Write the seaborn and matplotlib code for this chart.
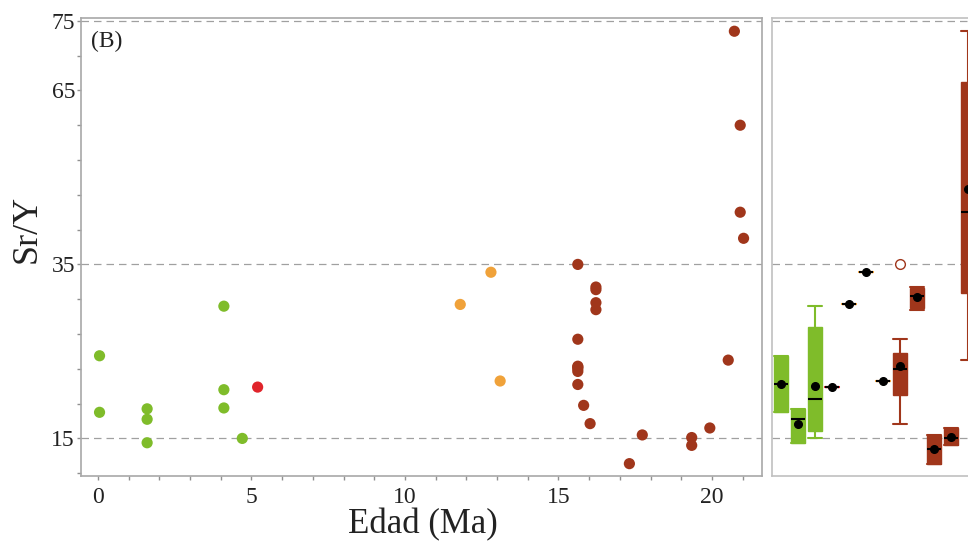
import numpy as np
import pandas as pd
import matplotlib
matplotlib.use("Agg")
import matplotlib.pyplot as plt
from matplotlib.ticker import NullFormatter
import seaborn as sns

# puntos: edad (Ma), Sr/Y, tipo y grupo de edad
edad = [0.05, 0.05, 1.6, 1.6, 1.6, 4.1, 4.1, 4.1, 4.7, 5.2,
        11.8, 12.8, 13.1,
        15.63, 15.63, 15.63, 15.63, 15.63, 15.63, 15.63, 15.82, 16.03,
        16.22, 16.22, 16.22, 16.22, 17.31, 17.73, 19.34, 19.34, 19.93,
        20.53, 20.73, 20.92, 20.92, 21.03]
sry = [24.5, 18.0, 18.4, 17.2, 14.5, 30.2, 20.6, 18.5, 15.0, 20.9,
       30.4, 34.1, 21.6,
       35.0, 26.4, 23.3, 23.2, 23.0, 22.7, 21.2, 18.8, 16.7,
       32.4, 32.1, 30.6, 29.8, 12.1, 15.4, 15.1, 14.2, 16.2,
       24.0, 73.5, 59.0, 44.0, 39.5]
tipo = ["verde"] * 9 + ["rojo"] + ["naranja"] * 3 + ["cafe"] * 23
grupo = [0, 0, 1, 1, 1, 2, 2, 2, 2, 3, 4, 5, 6] + [7] * 9 + [8] * 4 + \
        [9, 9, 10, 10, 10] + [11] * 5

colores = {"verde": "#7fbc2a", "rojo": "#e0242b",
           "naranja": "#f0a23a", "cafe": "#a0361b"}

df = pd.DataFrame({"edad": edad, "sry": sry, "tipo": tipo, "grupo": grupo})

# eje Y no lineal (marcas equiespaciadas)
Y_VAL = [-50, 15, 35, 65, 75, 200]
Y_POS = [-15.25, 1, 6, 11, 13, 38]
def fwd(v):
    return np.interp(v, Y_VAL, Y_POS)
def inv(h):
    return np.interp(h, Y_POS, Y_VAL)

sns.set_style("white")
plt.rcParams["font.family"] = ["Liberation Serif", "DejaVu Serif"]

W, H = 968, 544
fig = plt.figure(figsize=(9.68, 5.44), dpi=100)
ax = fig.add_axes([80.6 / W, 1 - 476 / H, (762 - 80.6) / W, (476 - 18.3) / H])
ax2 = fig.add_axes([772 / W, 1 - 476 / H, (1130 - 772) / W, (476 - 18.3) / H])

for a in (ax, ax2):
    a.set_yscale("function", functions=(fwd, inv))
    a.set_ylim(10.68, 75.36)
    for v in [15, 35, 75]:
        a.axhline(v, color="#a0a0a0", lw=0.9, ls=(0, (6, 4)), zorder=0)

sns.scatterplot(data=df, x="edad", y="sry", hue="tipo", palette=colores,
                s=65, linewidth=0, legend=False, ax=ax, zorder=3)

ax.set_xlim(-0.567, 21.63)
ax.set_xticks([0, 5, 10, 15, 20])
ax.set_xticks(range(0, 22), minor=True)
ax.set_yticks([15, 35, 65, 75], labels=["15", "35", "65", "75"])
ax.set_yticks([11, 19, 23, 27, 31, 41, 47, 53, 59, 70], minor=True)
ax.yaxis.set_minor_formatter(NullFormatter())
ax.tick_params(axis="both", which="both", direction="out", length=3,
               width=1, color="#909090", labelsize=17, labelcolor="#222222",
               left=True, bottom=True)
ax.tick_params(axis="y", pad=1)
ax.tick_params(axis="x", pad=5)

ax.set_xlabel("Edad (Ma)", fontsize=25, va="center", color="#222222")
ax.xaxis.set_label_coords(0.502, -0.107)
ax.set_ylabel("Sr/Y", fontsize=26, va="center", color="#222222")
ax.yaxis.set_label_coords(-0.079, 0.54)
ax.text(0.0148, 0.950, "(B)", transform=ax.transAxes, fontsize=17,
        va="center", ha="left", color="#222222")

# cajas por grupo (cuantiles tipo JMP)
for g in sorted(df["grupo"].unique()):
    sub = df[df["grupo"] == g]
    v = np.sort(sub["sry"].values)
    q1, med, q3 = np.quantile(v, [0.25, 0.5, 0.75], method="weibull")
    iqr = q3 - q1
    lo = v[v >= q1 - 1.5 * iqr].min()
    hi = v[v <= q3 + 1.5 * iqr].max()
    st = dict(med=med, q1=q1, q3=q3, whislo=lo, whishi=hi, mean=v.mean(),
              fliers=v[(v < lo) | (v > hi)])
    c = colores[sub["tipo"].iloc[0]]
    ax2.bxp([st], positions=[g], widths=0.82, capwidths=0.82,
            patch_artist=True, showmeans=True,
            boxprops=dict(facecolor=c, edgecolor=c, lw=1),
            whiskerprops=dict(color=c, lw=1.5),
            capprops=dict(color=c, lw=1.5),
            medianprops=dict(color="black", lw=1.5),
            meanprops=dict(marker="o", markerfacecolor="black",
                           markeredgecolor="black", markersize=5.5),
            flierprops=dict(marker="o", markerfacecolor="white",
                            markeredgecolor=c, markersize=7))

ax2.set_xlim(-0.51, (1130 - 780.7) / 17)
ax2.tick_params(axis="both", which="both", left=False, bottom=False,
                labelleft=False, labelbottom=False)
ax2.set_xlabel("")
ax2.set_ylabel("")

for sp in ax.spines.values():
    sp.set_color("#a8a8a8")
    sp.set_linewidth(1.2)
for sp in ax2.spines.values():
    sp.set_color("#c0c0c0")
    sp.set_linewidth(1.2)

fig.savefig("out.png", dpi=100)
